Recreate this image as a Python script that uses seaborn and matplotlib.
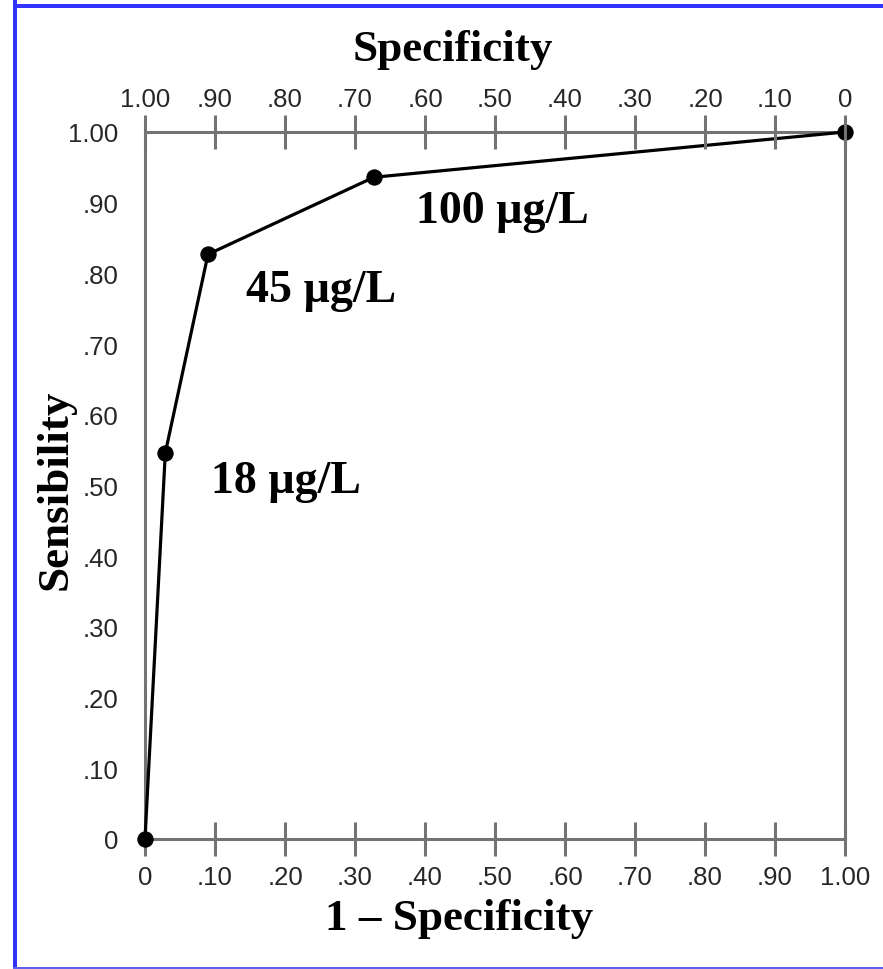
import matplotlib
matplotlib.use("Agg")
import matplotlib.pyplot as plt
import seaborn as sns
import pandas as pd
from matplotlib.patches import Rectangle

# ---- data ----
one_minus_spec = [0.0, 0.029, 0.09, 0.327, 1.0]
sensibility = [0.0, 0.546, 0.827, 0.936, 1.0]
cutoff_labels = ["18 µg/L", "45 µg/L", "100 µg/L"]
cutoff_label_x = [0.201, 0.251, 0.511]
cutoff_label_y = [0.491, 0.761, 0.873]
tick_vals = [0, 0.1, 0.2, 0.3, 0.4, 0.5, 0.6, 0.7, 0.8, 0.9, 1.0]
bottom_tick_labels = ["0", ".10", ".20", ".30", ".40", ".50", ".60", ".70", ".80", ".90", "1.00"]
top_tick_labels = ["1.00", ".90", ".80", ".70", ".60", ".50", ".40", ".30", ".20", ".10", "0"]
left_tick_labels = ["0", ".10", ".20", ".30", ".40", ".50", ".60", ".70", ".80", ".90", "1.00"]

df = pd.DataFrame({"fpr": one_minus_spec, "sens": sensibility})

sns.set_theme(style="white")
plt.rcParams["font.family"] = ["Liberation Sans", "DejaVu Sans"]

W, H = 883, 970
fig = plt.figure(figsize=(W / 100, H / 100), dpi=100)
fig.patch.set_facecolor("white")

# blue frame
fig.add_artist(Rectangle((13 / W, 0), 4 / W, 1, transform=fig.transFigure,
                         color="#3333ff", lw=0))
fig.add_artist(Rectangle((13 / W, 1 - 9 / H), 1, 4 / H, transform=fig.transFigure,
                         color="#3333ff", lw=0))
fig.add_artist(Rectangle((13 / W, 0), 1, 2 / H, transform=fig.transFigure,
                         color="#6060ee", lw=0))

x0, x1 = 145, 845
y0, y1 = 840, 133
ax = fig.add_axes([x0 / W, (H - y0) / H, (x1 - x0) / W, (y0 - y1) / H])
ax.set_facecolor("white")

sns.lineplot(data=df, x="fpr", y="sens", ax=ax, color="black", lw=2.3,
             marker="o", markersize=11, markeredgecolor="black",
             sort=False, clip_on=False, zorder=5)

ax.set_xlim(0, 1)
ax.set_ylim(0, 1)

axis_col = "#737373"
for s in ax.spines.values():
    s.set_color(axis_col)
    s.set_linewidth(2.2)

tick_kw = dict(direction="inout", length=24, width=2.2, color=axis_col,
               labelsize=18.5, labelcolor="#262626")
ax.set_xticks(tick_vals)
ax.set_xticklabels(bottom_tick_labels)
ax.set_yticks(tick_vals)
ax.set_yticklabels(left_tick_labels)
ax.tick_params(axis="x", pad=7, **tick_kw)
ax.tick_params(axis="y", pad=7, **tick_kw)

axt = ax.twiny()
axt.set_xlim(0, 1)
axt.set_xticks(tick_vals)
axt.set_xticklabels(top_tick_labels)
axt.tick_params(axis="x", pad=3, **tick_kw)
for s in axt.spines.values():
    s.set_visible(False)

serif = ["Liberation Serif", "DejaVu Serif"]
fs_title = 32.5
ax.set_xlabel("1 – Specificity", family=serif, fontsize=fs_title, fontweight="bold",
              color="black", va="center")
ax.xaxis.set_label_coords(0.449, -0.112)
ax.set_ylabel("Sensibility", family=serif, fontsize=fs_title, fontweight="bold",
              color="black", va="center")
ax.yaxis.set_label_coords(-0.128, 0.495)
axt.set_xlabel("Specificity", family=serif, fontsize=fs_title, fontweight="bold",
               color="black", va="center")
axt.xaxis.set_label_coords(0.44, 1.117)

for lab, tx, ty in zip(cutoff_labels, cutoff_label_x, cutoff_label_y):
    ax.text(tx, ty, lab, family=serif, fontsize=33, fontweight="bold",
            color="black", ha="center", va="baseline")

fig.savefig("out.png", dpi=100, facecolor="white")
